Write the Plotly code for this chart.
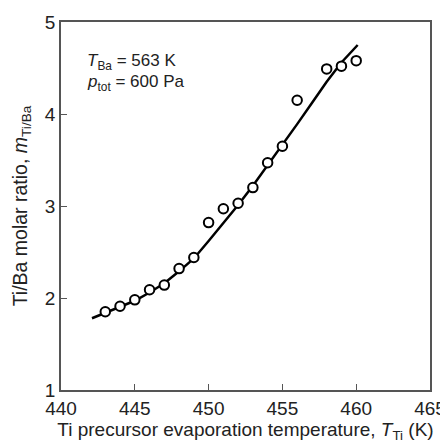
import plotly.graph_objects as go

# measured data
temp_K = [443, 444, 445, 446, 447, 448, 449, 450, 451, 452, 453, 454, 455, 456, 458, 459, 460]
ratio = [1.85, 1.91, 1.98, 2.09, 2.14, 2.32, 2.44, 2.82, 2.97, 3.03, 3.20, 3.47, 3.65, 4.15, 4.49, 4.52, 4.58]

# fitted curve
fit_T = [442.1, 443, 444, 445, 446, 447, 448, 449, 450, 451, 452, 453, 454, 455, 456, 457, 458, 459, 460.1]
fit_ratio = [1.78, 1.84, 1.90, 1.97, 2.06, 2.16, 2.29, 2.43, 2.62, 2.81, 3.01, 3.22, 3.44, 3.66, 3.89, 4.12, 4.35, 4.56, 4.75]

x_ticks = [440, 445, 450, 455, 460, 465]
y_ticks = [1, 2, 3, 4, 5]

font_family = "Liberation Sans, Arial, sans-serif"

fig = go.Figure()
fig.add_trace(go.Scatter(x=fit_T, y=fit_ratio, mode="lines",
                         line=dict(color="black", width=2.5),
                         showlegend=False, hoverinfo="skip"))
fig.add_trace(go.Scatter(x=temp_K, y=ratio, mode="markers",
                         marker=dict(symbol="circle", size=9.5, color="white",
                                     line=dict(color="black", width=2)),
                         showlegend=False))

axis_common = dict(showline=True, linecolor="#555555", linewidth=1.5, mirror=True,
                   ticks="inside", ticklen=6, tickcolor="#555555", tickwidth=1.2,
                   showgrid=False, zeroline=False, automargin=False,
                   tickfont=dict(family=font_family, size=19, color="#222222"))

fig.update_xaxes(range=[440, 465], tickvals=x_ticks, **axis_common,
                 title=dict(text="Ti precursor evaporation temperature, <i>T</i><sub>Ti</sub> (K)",
                            font=dict(family=font_family, size=19, color="#222222"), standoff=14))
fig.update_yaxes(range=[1, 5], tickvals=y_ticks, **axis_common,
                 title=dict(text="Ti/Ba molar ratio, <i>m</i><sub>Ti/Ba</sub>",
                            font=dict(family=font_family, size=19.5, color="#222222"), standoff=12))

fig.add_annotation(x=0.065, y=0.89, xref="paper", yref="paper", xanchor="left", yanchor="middle",
                   text="<i>T</i><sub>Ba</sub> = 563 K", showarrow=False,
                   font=dict(family=font_family, size=17, color="#222222"))
fig.add_annotation(x=0.065, y=0.835, xref="paper", yref="paper", xanchor="left", yanchor="middle",
                   text="<i>p</i><sub>tot</sub> = 600 Pa", showarrow=False,
                   font=dict(family=font_family, size=17, color="#222222"))

# page body has an 8px default margin, so the figure is sized to fit the 448x443 window
fig.update_layout(width=440, height=435, margin=dict(l=53, r=18, t=14, b=53),
                  plot_bgcolor="white", paper_bgcolor="white")

fig.write_html("out.html")
